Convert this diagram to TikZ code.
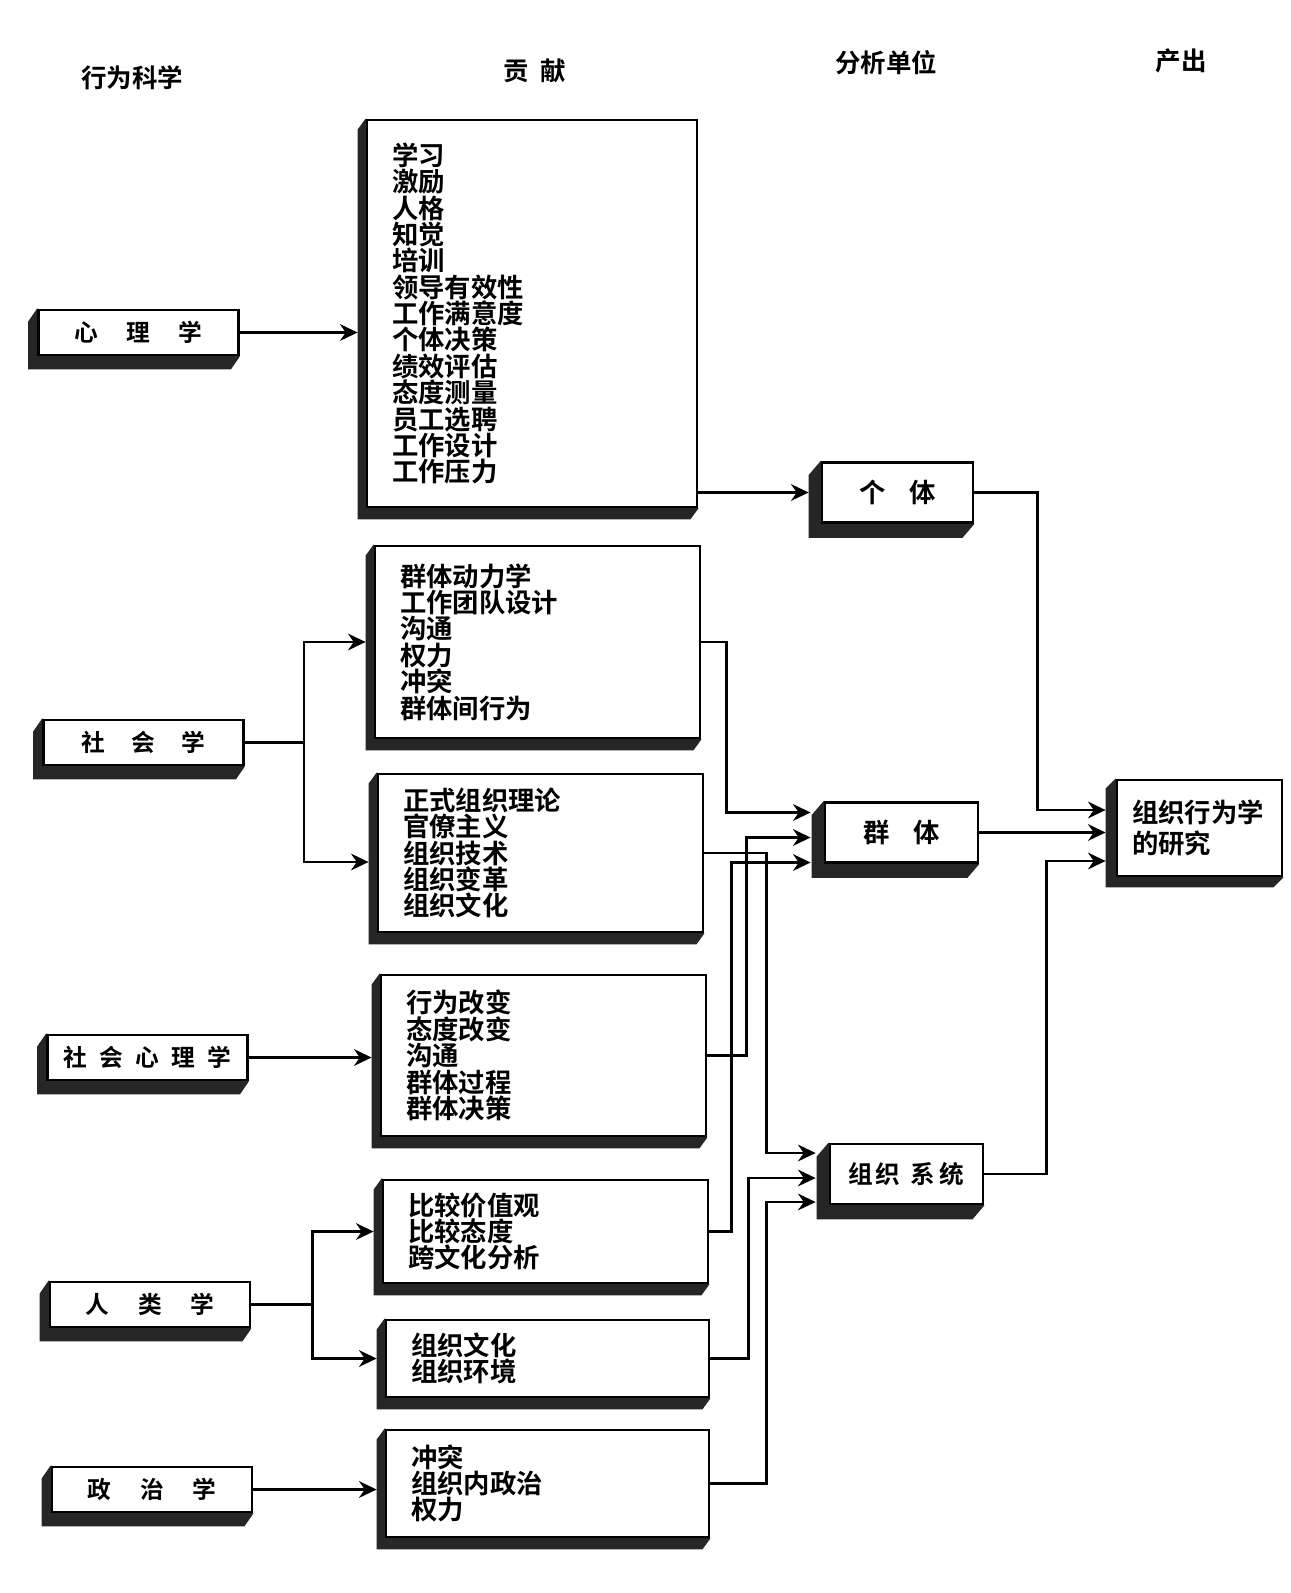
\documentclass[tikz,border=0pt]{standalone}
\usepackage{fontspec}
\setmainfont{Noto Sans CJK SC}[BoldFont={* Bold}]
\usepackage{tikz}
\usetikzlibrary{arrows.meta, calc, backgrounds}
\newcommand{\boxshade}[3]{%
  \fill[black!85] (#1.north west) -- ++(-#2,#3) -- ($(#1.south west)+(-#2,#3)$)
    -- ($(#1.south east)+(-#2,#3)$) -- (#1.south east) -- cycle;}

\begin{document}
\begin{tikzpicture}[x=0.2mm, y=-0.2mm,
    every node/.style={font=\bfseries},
    head/.style={font=\fontsize{14.5pt}{16pt}\selectfont\bfseries},
    discbox/.style={draw, line width=1.6pt, fill=white, minimum width=4cm, minimum height=0.9cm, inner sep=0pt, font=\fontsize{13.5pt}{15pt}\selectfont\bfseries},
    contrib/.style={draw, line width=1.6pt, fill=white, align=left, inner xsep=0.5cm, inner ysep=0pt, font=\fontsize{15pt}{15pt}\selectfont\bfseries},
    unitbox/.style={draw, line width=1.6pt, fill=white, minimum width=3.06cm, minimum height=1.2cm, inner sep=0pt, font=\fontsize{15pt}{17pt}\selectfont\bfseries},
    conn/.style={line width=1.3pt, -{Stealth[length=10pt, width=9.5pt]}},
]
\useasboundingbox (0,0) rectangle (1290,1593);
\begin{scope}[on background layer]
    \fill[white] (0,0) rectangle (1290,1593);
\end{scope}
% column heads
\node[head] (hSci) at (132,78) {行为科学};
\node[head] (hCon) at (535,71) {贡\hspace{0.45em}献};
\node[head] (hUnit) at (886,63) {分析单位};
\node[head] (hOut) at (1181,61) {产出};
% disciplines
\node[discbox] (psy) at (138.5,332.5) {心\hspace{1.2em}理\hspace{1.2em}学};
\node[discbox] (soc) at (143.5,742.5) {社\hspace{1.1em}会\hspace{1.1em}学};
\node[discbox] (socpsy) at (147.5,1057.5) {社\hspace{0.52em}会\hspace{0.52em}心\hspace{0.52em}理\hspace{0.52em}学};
\node[discbox] (anth) at (150,1304.5) {人\hspace{1.2em}类\hspace{1.2em}学};
\node[discbox] (pol) at (152,1489.5) {政\hspace{1.2em}治\hspace{1.2em}学};
% contributions
\node[contrib, text width=5.6cm, minimum height=7.74cm] (cPsy) at (532,313.5) {学习\\激励\\人格\\知觉\\培训\\领导有效性\\工作满意度\\个体决策\\绩效评估\\态度测量\\员工选聘\\工作设计\\工作压力};
\node[contrib, text width=5.5cm, minimum height=3.84cm] (cSoc1) at (537.5,642) {群体动力学\\工作团队设计\\沟通\\权力\\冲突\\群体间行为};
\node[contrib, text width=5.5cm, minimum height=3.16cm] (cSoc2) at (540.5,853) {正式组织理论\\官僚主义\\组织技术\\组织变革\\组织文化};
\node[contrib, text width=5.5cm, minimum height=3.22cm] (cSP) at (543.5,1055.5) {行为改变\\态度改变\\沟通\\群体过程\\群体决策};
\node[contrib, text width=5.5cm, minimum height=2.06cm] (cAn1) at (545.5,1231.5) {比较价值观\\比较态度\\跨文化分析};
\node[contrib, text width=5.46cm, minimum height=1.54cm] (cAn2) at (547.5,1358.5) {组织文化\\组织环境};
\node[contrib, text width=5.46cm, minimum height=2.14cm] (cPol) at (547.5,1483.5) {冲突\\组织内政治\\权力};
% units of analysis
\node[unitbox, minimum width=3.02cm] (ind) at (897.5,492.5) {个\hspace{0.9em}体};
\node[unitbox] (grp) at (901.5,832.5) {群\hspace{0.9em}体};
\node[unitbox, font=\fontsize{14pt}{16pt}\selectfont\bfseries] (sys) at (906.5,1174) {组\hspace{0.1em}织\hspace{0.4em}系\hspace{0.2em}统};
\node[draw, line width=1.6pt, fill=white, align=left, text width=2.7cm, inner xsep=0.3cm, minimum height=1.92cm, font=\fontsize{15pt}{17.5pt}\selectfont\bfseries] (obs) at (1199.5,828) {组织行为学\\的研究};
\begin{scope}[on background layer]
    \foreach \n in {psy,soc,socpsy,anth,pol} {\boxshade{\n}{9}{13}}
    \foreach \n in {cPsy,cSoc1,cSoc2,cSP,cAn1,cAn2,cPol} {\boxshade{\n}{8}{11}}
    \foreach \n in {ind,grp,sys} {\boxshade{\n}{12}{14}}
    \boxshade{obs}{10}{10}
\end{scope}
% into contributions
\draw[conn] (psy.east) -- ($(psy.east -| cPsy.west)+(-8,0)$);
\draw[conn] (soc.east) -- ++(59,0) coordinate (socFork) |- ($(cSoc1.west)+(-8,0)$);
\draw[conn] (socFork) |- ($(cSoc2.west)+(-8,9)$);
\draw[conn] (socpsy.east) -- ($(socpsy.east -| cSP.west)+(-8,0)$);
\draw[conn] (anth.east) -- ++(61,0) coordinate (anthFork) |- ($(cAn1.west)+(-8,0)$);
\draw[conn] (anthFork) |- ($(cAn2.west)+(-8,0)$);
\draw[conn] (pol.east) -- ($(pol.east -| cPol.west)+(-8,0)$);
% into units
\draw[conn] (cPsy.east |- ind.west) -- ($(ind.west)+(-12,0)$);
\draw[conn] (cSoc1.east) -- ++(25,0) |- ($(grp.west)+(-13,-20)$);
\draw[conn] (cSP.east) -- ++(39,0) |- ($(grp.west)+(-13,5)$);
\draw[conn] (cAn1.east) -- ++(22,0) |- ($(grp.west)+(-13,30)$);
\draw[conn] (cSoc2.east) -- ++(62,0) |- ($(sys.west)+(-13,-21)$);
\draw[conn] (cAn2.east) -- ++(38,0) |- ($(sys.west)+(-13,4)$);
\draw[conn] (cPol.east) -- ++(56,0) |- ($(sys.west)+(-13,28)$);
% into output
\draw[conn] (ind.east) -- ++(63,0) |- ($(obs.west)+(-10,-18)$);
\draw[conn] (grp.east) -- ($(grp.east -| obs.west)+(-10,0)$);
\draw[conn] (sys.east) -- ++(62,0) |- ($(obs.west)+(-10,33)$);
\end{tikzpicture}
\end{document}
